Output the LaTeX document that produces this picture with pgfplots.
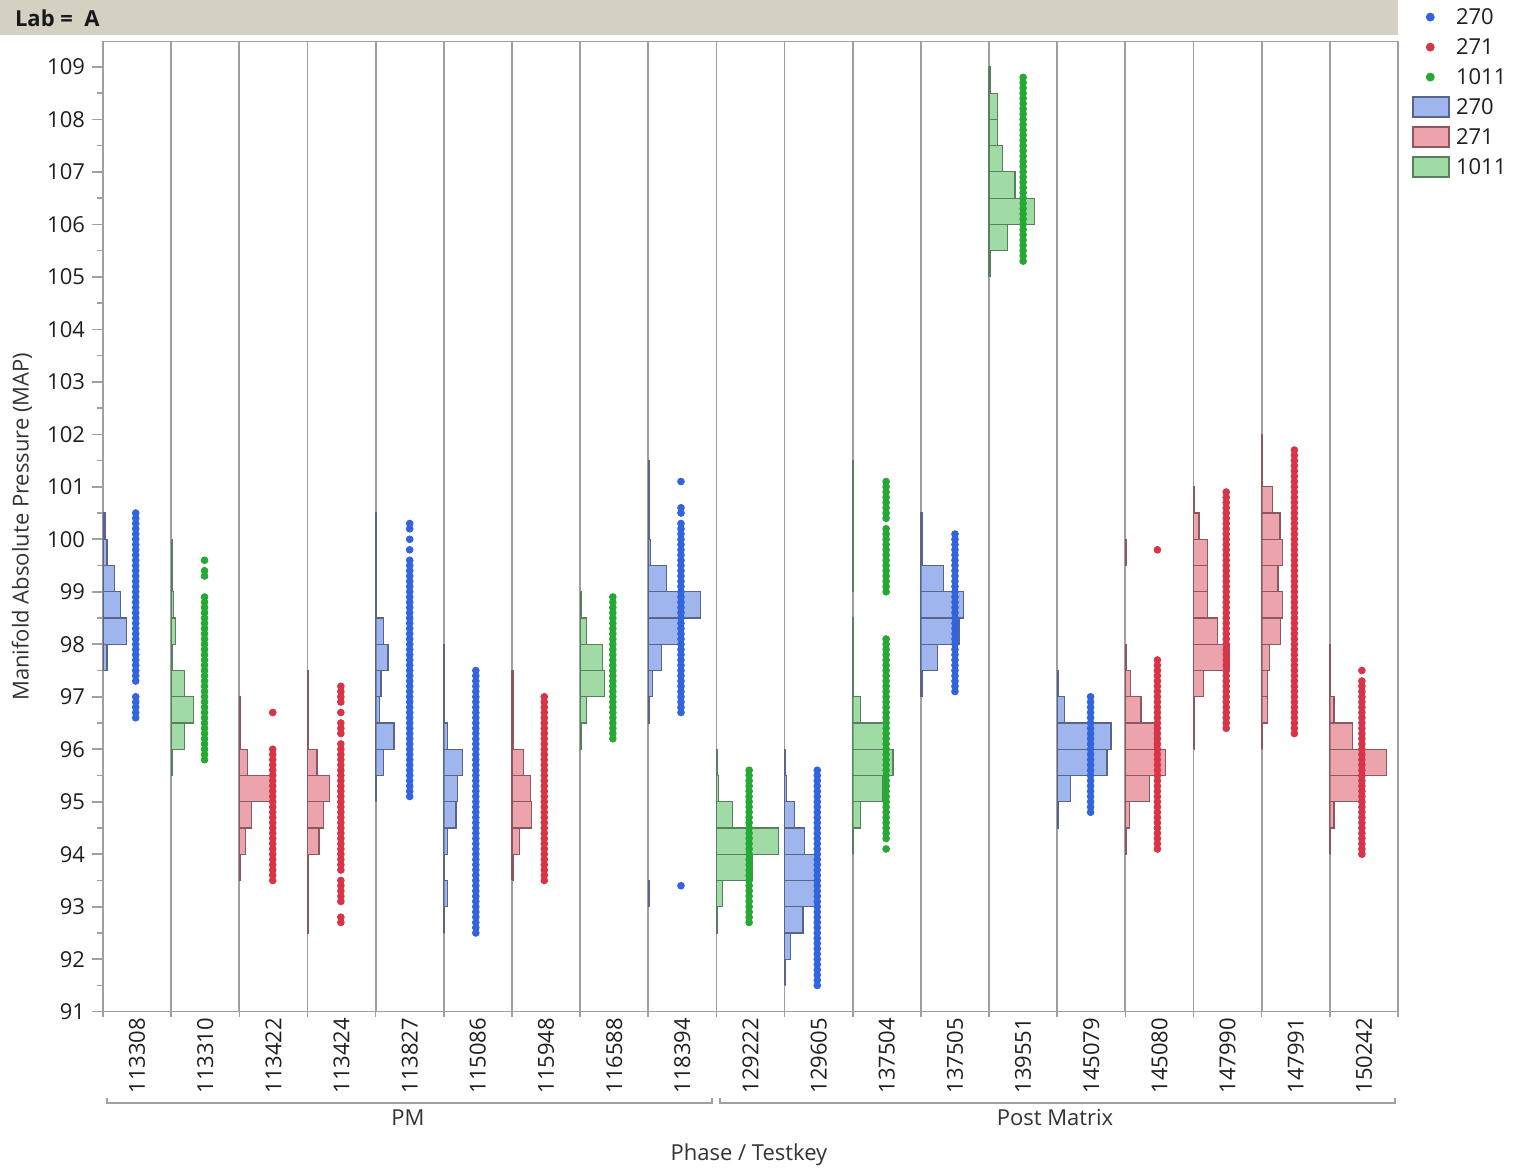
\documentclass[border=0pt]{standalone}
\usepackage{pgfplots}
\pgfplotsset{compat=1.18}
\usepackage{fontspec}
\setmainfont{Open Sans}
\definecolor{c270}{RGB}{50,100,222}
\definecolor{c271}{RGB}{216,52,72}
\definecolor{c1011}{RGB}{38,168,52}
\definecolor{f270}{RGB}{62,108,222}
\definecolor{f271}{RGB}{218,72,90}
\definecolor{f1011}{RGB}{66,182,76}
\definecolor{e270}{RGB}{90,100,138}
\definecolor{e271}{RGB}{140,88,96}
\definecolor{e1011}{RGB}{88,128,92}
\definecolor{band}{RGB}{212,208,194}
\definecolor{sep}{RGB}{160,160,160}
\pgfplotsset{
  b270/.style={draw=e270, line width=0.6pt, fill=f270, fill opacity=0.5, forget plot},
  b271/.style={draw=e271, line width=0.6pt, fill=f271, fill opacity=0.5, forget plot},
  b1011/.style={draw=e1011, line width=0.6pt, fill=f1011, fill opacity=0.5, forget plot},
  d270/.style={only marks, mark=*, mark size=1.7pt, color=c270, forget plot},
  d271/.style={only marks, mark=*, mark size=1.7pt, color=c271, forget plot},
  d1011/.style={only marks, mark=*, mark size=1.7pt, color=c1011, forget plot},
}
\newcommand{\fs}{\fontsize{11}{13}\selectfont}
% horizontal histogram bars: style, panel left edge, list of bottom/width (bin height 0.5)
\newcommand{\hbars}[3]{%
  \foreach \ya/\w in {#3}{%
    \pgfmathsetmacro\xa{#2}\pgfmathsetmacro\xb{#2+\w}\pgfmathsetmacro\yb{\ya+0.5}%
    \edef\tmp{\noexpand\addplot[\unexpanded{#1}] coordinates {(\xa,\ya) (\xb,\ya) (\xb,\yb) (\xa,\yb) (\xa,\ya)};}\tmp
  }}
% column of points: style, x, list of y values
\newcommand{\dotcol}[3]{%
  \gdef\pts{}%
  \foreach \v in {#3}{\xdef\pts{\pts (#2,\v)}}%
  \edef\tmp{\noexpand\addplot[\unexpanded{#1}] coordinates {\pts};}\tmp}
\begin{document}
\begin{tikzpicture}
\useasboundingbox (-51.5pt,-80.15pt) rectangle (706.5pt,505.85pt);
\fill[band] (-51.5pt,488.35pt) rectangle (647.5pt,505.85pt);
\node[anchor=west, font=\bfseries\fs, text=black!90] at (-47.5pt,496.85pt) {Lab =\ \ A};
\begin{axis}[at={(0pt,0pt)}, anchor=south west, scale only axis,
  width=647.5pt, height=485pt,
  xmin=0, xmax=19, ymin=91, ymax=109.48,
  axis line style={sep, line width=0.8pt},
  tick style={sep, line width=0.8pt},
  tick align=outside, major tick length=5.5pt, minor tick length=2.8pt,
  xtick pos=bottom, ytick pos=left,
  ytick={91,92,...,109}, minor y tick num=1,
  xtick={0.5,1.5,...,18.5},
  xticklabels={113308,113310,113422,113424,113827,115086,115948,116588,118394,129222,129605,137504,137505,139551,145079,145080,147990,147991,150242},
  major x tick style={draw=none},
  minor xtick={0,1,...,19},
  xminorgrids=true, minor x grid style={sep, line width=0.9pt},
  xticklabel style={rotate=90, anchor=east, inner sep=0pt},
  xticklabel shift=-2.5pt,
  tick label style={font=\fs, text=black!88},
  /pgf/number format/assume math mode=true,
  legend style={draw=none, fill=none, at={(axis description cs:1,1)}, anchor=north west,
    xshift=7pt, yshift=20pt, inner sep=0pt, row sep=0pt, column sep=1pt,
    nodes={inner sep=2pt, text height=9pt, text depth=2pt, font=\fs, text=black!88}},
  legend cell align=left,
]
% legend
\addlegendimage{only marks, mark=*, mark size=2pt, color=c270}
\addlegendentry{270}
\addlegendimage{only marks, mark=*, mark size=2pt, color=c271}
\addlegendentry{271}
\addlegendimage{only marks, mark=*, mark size=2pt, color=c1011}
\addlegendentry{1011}
\addlegendimage{legend image code/.code={\draw[draw=e270, fill=f270, fill opacity=0.5, line width=0.8pt] (0pt,-5pt) rectangle (18pt,5pt);}}
\addlegendentry{270}
\addlegendimage{legend image code/.code={\draw[draw=e271, fill=f271, fill opacity=0.5, line width=0.8pt] (0pt,-5pt) rectangle (18pt,5pt);}}
\addlegendentry{271}
\addlegendimage{legend image code/.code={\draw[draw=e1011, fill=f1011, fill opacity=0.5, line width=0.8pt] (0pt,-5pt) rectangle (18pt,5pt);}}
\addlegendentry{1011}
% ---------- points ----------
\dotcol{d270}{0.48}{100.5,100.4,100.3,100.2,100.1,100.0,99.9,99.8,99.7,99.6,99.5,99.4,99.3,99.2,99.1,99.0,98.9,98.8,98.7,98.6,98.5,98.4,98.3,98.2,98.1,98.0,97.9,97.8,97.7,97.6,97.5,97.4,97.3,97.0,96.9,96.8,96.7,96.6}
\dotcol{d1011}{1.49}{99.6,99.4,99.3,98.9,98.8,98.7,98.6,98.5,98.4,98.3,98.2,98.1,98.0,97.9,97.8,97.7,97.6,97.5,97.4,97.3,97.2,97.1,97.0,96.9,96.8,96.7,96.6,96.5,96.4,96.3,96.2,96.1,96.0,95.9,95.8}
\dotcol{d271}{2.49}{96.7,96.0,95.9,95.8,95.7,95.6,95.5,95.4,95.3,95.2,95.1,95.0,94.9,94.8,94.7,94.6,94.5,94.4,94.3,94.2,94.1,94.0,93.9,93.8,93.7,93.6,93.5}
\dotcol{d271}{3.49}{97.2,97.1,97.0,96.9,96.7,96.5,96.4,96.3,96.1,96.0,95.9,95.8,95.7,95.6,95.5,95.4,95.3,95.2,95.1,95.0,94.9,94.8,94.7,94.6,94.5,94.4,94.3,94.2,94.1,94.0,93.9,93.8,93.7,93.5,93.4,93.3,93.2,93.1,92.8,92.7}
\dotcol{d270}{4.50}{100.3,100.2,100.0,99.8,99.6,99.5,99.4,99.3,99.2,99.1,99.0,98.9,98.8,98.7,98.6,98.5,98.4,98.3,98.2,98.1,98.0,97.9,97.8,97.7,97.6,97.5,97.4,97.3,97.2,97.1,97.0,96.9,96.8,96.7,96.6,96.5,96.4,96.3,96.2,96.1,96.0,95.9,95.8,95.7,95.6,95.5,95.4,95.3,95.2,95.1}
\dotcol{d270}{5.47}{97.5,97.4,97.3,97.2,97.1,97.0,96.9,96.8,96.7,96.6,96.5,96.4,96.3,96.2,96.1,96.0,95.9,95.8,95.7,95.6,95.5,95.4,95.3,95.2,95.1,95.0,94.9,94.8,94.7,94.6,94.5,94.4,94.3,94.2,94.1,94.0,93.9,93.8,93.7,93.6,93.5,93.4,93.3,93.2,93.1,93.0,92.9,92.8,92.7,92.6,92.5}
\dotcol{d271}{6.475}{97.0,96.9,96.8,96.7,96.6,96.5,96.4,96.3,96.2,96.1,96.0,95.9,95.8,95.7,95.6,95.5,95.4,95.3,95.2,95.1,95.0,94.9,94.8,94.7,94.6,94.5,94.4,94.3,94.2,94.1,94.0,93.9,93.8,93.7,93.6,93.5}
\dotcol{d1011}{7.48}{98.9,98.8,98.7,98.6,98.5,98.4,98.3,98.2,98.1,98.0,97.9,97.8,97.7,97.6,97.5,97.4,97.3,97.2,97.1,97.0,96.9,96.8,96.7,96.6,96.5,96.4,96.3,96.2}
\dotcol{d270}{8.48}{101.1,100.6,100.5,100.3,100.2,100.1,100.0,99.9,99.8,99.7,99.6,99.5,99.4,99.3,99.2,99.1,99.0,98.9,98.8,98.7,98.6,98.5,98.4,98.3,98.2,98.1,98.0,97.9,97.8,97.7,97.6,97.5,97.4,97.3,97.2,97.1,97.0,96.9,96.8,96.7,93.4}
\dotcol{d1011}{9.48}{95.6,95.5,95.4,95.3,95.2,95.1,95.0,94.9,94.8,94.7,94.6,94.5,94.4,94.3,94.2,94.1,94.0,93.9,93.8,93.7,93.6,93.5,93.4,93.3,93.2,93.1,93.0,92.9,92.8,92.7}
\dotcol{d270}{10.48}{95.6,95.5,95.4,95.3,95.2,95.1,95.0,94.9,94.8,94.7,94.6,94.5,94.4,94.3,94.2,94.1,94.0,93.9,93.8,93.7,93.6,93.5,93.4,93.3,93.2,93.1,93.0,92.9,92.8,92.7,92.6,92.5,92.4,92.3,92.2,92.1,92.0,91.9,91.8,91.7,91.6,91.5}
\dotcol{d1011}{11.49}{101.1,101.0,100.9,100.8,100.7,100.6,100.5,100.4,100.2,100.1,100.0,99.9,99.8,99.7,99.6,99.5,99.4,99.3,99.2,99.1,99.0,98.1,98.0,97.9,97.8,97.7,97.6,97.5,97.4,97.3,97.2,97.1,97.0,96.9,96.8,96.7,96.6,96.5,96.4,96.3,96.2,96.1,96.0,95.9,95.8,95.7,95.6,95.5,95.4,95.3,95.2,95.1,95.0,94.9,94.8,94.7,94.6,94.5,94.4,94.3,94.1}
\dotcol{d270}{12.5}{100.1,100.0,99.9,99.8,99.7,99.6,99.5,99.4,99.3,99.2,99.1,99.0,98.9,98.8,98.7,98.6,98.5,98.4,98.3,98.2,98.1,98.0,97.9,97.8,97.7,97.6,97.5,97.4,97.3,97.2,97.1}
\dotcol{d1011}{13.5}{108.8,108.7,108.6,108.5,108.4,108.3,108.2,108.1,108.0,107.9,107.8,107.7,107.6,107.5,107.4,107.3,107.2,107.1,107.0,106.9,106.8,106.7,106.6,106.5,106.4,106.3,106.2,106.1,106.0,105.9,105.8,105.7,105.6,105.5,105.4,105.3}
\dotcol{d270}{14.49}{97.0,96.9,96.8,96.7,96.6,96.5,96.4,96.3,96.2,96.1,96.0,95.9,95.8,95.7,95.6,95.5,95.4,95.3,95.2,95.1,95.0,94.9,94.8}
\dotcol{d271}{15.47}{99.8,97.7,97.6,97.5,97.4,97.3,97.2,97.1,97.0,96.9,96.8,96.7,96.6,96.5,96.4,96.3,96.2,96.1,96.0,95.9,95.8,95.7,95.6,95.5,95.4,95.3,95.2,95.1,95.0,94.9,94.8,94.7,94.6,94.5,94.4,94.3,94.2,94.1}
\dotcol{d271}{16.48}{100.9,100.8,100.7,100.6,100.5,100.4,100.3,100.2,100.1,100.0,99.9,99.8,99.7,99.6,99.5,99.4,99.3,99.2,99.1,99.0,98.9,98.8,98.7,98.6,98.5,98.4,98.3,98.2,98.1,98.0,97.9,97.8,97.7,97.6,97.5,97.4,97.3,97.2,97.1,97.0,96.9,96.8,96.7,96.6,96.5,96.4}
\dotcol{d271}{17.48}{101.7,101.6,101.5,101.4,101.3,101.2,101.1,101.0,100.9,100.8,100.7,100.6,100.5,100.4,100.3,100.2,100.1,100.0,99.9,99.8,99.7,99.6,99.5,99.4,99.3,99.2,99.1,99.0,98.9,98.8,98.7,98.6,98.5,98.4,98.3,98.2,98.1,98.0,97.9,97.8,97.7,97.6,97.5,97.4,97.3,97.2,97.1,97.0,96.9,96.8,96.7,96.6,96.5,96.4,96.3}
\dotcol{d271}{18.47}{97.5,97.3,97.2,97.1,97.0,96.9,96.8,96.7,96.6,96.5,96.4,96.3,96.2,96.1,96.0,95.9,95.8,95.7,95.6,95.5,95.4,95.3,95.2,95.1,95.0,94.9,94.8,94.7,94.6,94.5,94.4,94.3,94.2,94.1,94.0}
% ---------- histograms (bin bottom / bar length in panel widths) ----------
\hbars{b270}{0}{97.5/0.06,98/0.35,98.5/0.26,99/0.17,99.5/0.06,100/0.03}
\hbars{b1011}{1}{95.5/0.015,96/0.2,96.5/0.33,97/0.2,97.5/0.015,98/0.06,98.5/0.04,99/0.015,99.5/0.015}
\hbars{b271}{2}{93.5/0.015,94/0.09,94.5/0.18,95/0.52,95.5/0.12,96/0.015,96.5/0.015}
\hbars{b271}{3}{92.5/0.015,93/0.015,93.5/0.015,94/0.17,94.5/0.23,95/0.32,95.5/0.14,96/0.015,96.5/0.015,97/0.015}
\hbars{b270}{4}{95/0.015,95.5/0.12,96/0.27,96.5/0.06,97/0.08,97.5/0.18,98/0.12,98.5/0.015,99/0.015,99.5/0.015,100/0.015}
\hbars{b270}{5}{92.5/0.015,93/0.06,93.5/0.015,94/0.06,94.5/0.18,95/0.2,95.5/0.27,96/0.06,96.5/0.015,97/0.015,97.5/0.015}
\hbars{b271}{6}{93.5/0.015,94/0.11,94.5/0.29,95/0.27,95.5/0.17,96/0.015,96.5/0.015,97/0.015}
\hbars{b1011}{7}{96/0.015,96.5/0.09,97/0.36,97.5/0.33,98/0.09,98.5/0.015}
\hbars{b270}{8}{93/0.015,96.5/0.015,97/0.06,97.5/0.19,98/0.50,98.5/0.77,99/0.27,99.5/0.03,100/0.015,100.5/0.015,101/0.015}
\hbars{b1011}{9}{92.5/0.015,93/0.09,93.5/0.53,94/0.91,94.5/0.23,95/0.03,95.5/0.015}
\hbars{b270}{10}{91.5/0.015,92/0.09,92.5/0.27,93/0.46,93.5/0.46,94/0.29,94.5/0.15,95/0.03,95.5/0.015}
\hbars{b1011}{11}{94/0.015,94.5/0.11,95/0.44,95.5/0.59,96/0.49,96.5/0.11,97/0.015,97.5/0.015,98/0.015,99/0.015,99.5/0.015,100/0.015,100.5/0.015,101/0.015}
\hbars{b270}{12}{97/0.015,97.5/0.24,98/0.56,98.5/0.62,99/0.33,99.5/0.015,100/0.015}
\hbars{b1011}{13}{105/0.015,105.5/0.27,106/0.67,106.5/0.38,107/0.2,107.5/0.12,108/0.12,108.5/0.015}
\hbars{b270}{14}{94.5/0.015,95/0.2,95.5/0.73,96/0.79,96.5/0.11,97/0.015}
\hbars{b271}{15}{94/0.015,94.5/0.06,95/0.35,95.5/0.59,96/0.43,96.5/0.23,97/0.08,97.5/0.015,99.5/0.015}
\hbars{b271}{16}{96/0.015,96.5/0.015,97/0.15,97.5/0.52,98/0.35,98.5/0.21,99/0.21,99.5/0.21,100/0.08,100.5/0.015}
\hbars{b271}{17}{96/0.015,96.5/0.09,97/0.09,97.5/0.12,98/0.28,98.5/0.30,99/0.24,99.5/0.30,100/0.27,100.5/0.16,101/0.015,101.5/0.015}
\hbars{b271}{18}{94/0.015,94.5/0.06,95/0.51,95.5/0.83,96/0.33,96.5/0.06,97/0.015,97.5/0.015}
\end{axis}
\node[rotate=90, font=\fs, text=black!80] at (-40.5pt,242.5pt) {Manifold Absolute Pressure (MAP)};
\draw[sep, line width=0.8pt] (2pt,-43.15pt) -- (2pt,-45.65pt) -- (304.5pt,-45.65pt) -- (304.5pt,-43.15pt);
\draw[sep, line width=0.8pt] (308.5pt,-43.15pt) -- (308.5pt,-45.65pt) -- (646pt,-45.65pt) -- (646pt,-43.15pt);
\node[font=\fs, text=black!80] at (152.5pt,-53.15pt) {PM};
\node[font=\fs, text=black!80] at (476pt,-53.15pt) {Post Matrix};
\node[font=\fs, text=black!80] at (323pt,-71.65pt) {Phase / Testkey};
\end{tikzpicture}
\end{document}
